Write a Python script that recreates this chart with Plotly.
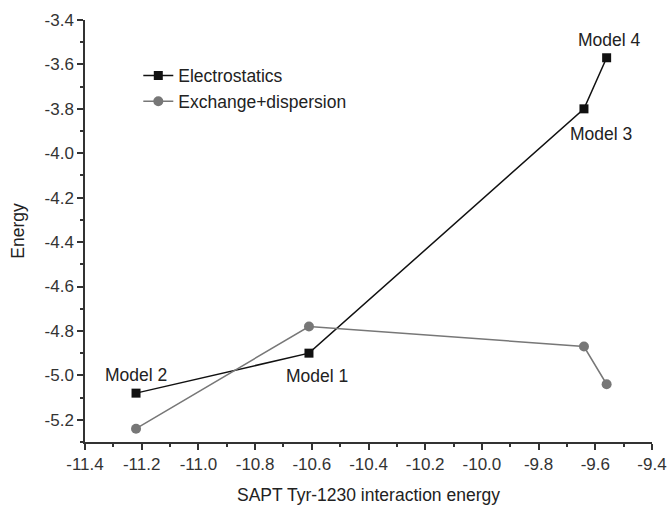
import plotly.graph_objects as go

models = ["Model 1", "Model 2", "Model 3", "Model 4"]
sapt_x = [-11.22, -10.61, -9.64, -9.56]
electro_y = [-5.08, -4.90, -3.80, -3.57]
exdisp_y = [-5.24, -4.78, -4.87, -5.04]
point_models = ["Model 2", "Model 1", "Model 3", "Model 4"]

x_ticks = [-11.4, -11.2, -11.0, -10.8, -10.6, -10.4, -10.2, -10.0, -9.8, -9.6, -9.4]
y_ticks = [-3.4, -3.6, -3.8, -4.0, -4.2, -4.4, -4.6, -4.8, -5.0, -5.2]

FONT = "Liberation Sans"
FS = 17.5
TFS = 17
fig = go.Figure()
fig.add_trace(go.Scatter(
    x=sapt_x, y=electro_y, mode="lines+markers", name="Electrostatics",
    line=dict(color="#111111", width=1.5),
    marker=dict(symbol="square", size=9, color="#111111"),
))
fig.add_trace(go.Scatter(
    x=sapt_x, y=exdisp_y, mode="lines+markers", name="Exchange+dispersion",
    line=dict(color="#777777", width=1.5),
    marker=dict(symbol="circle", size=10, color="#777777"),
))

offsets = {"Model 2": (0, 18), "Model 1": (8, -23), "Model 3": (17, -25), "Model 4": (3, 18)}
for xv, yv, m in zip(sapt_x, electro_y, point_models):
    dx, dy = offsets[m]
    fig.add_annotation(x=xv, y=yv, text=m, showarrow=False, xshift=dx, yshift=dy,
                       font=dict(family=FONT, size=FS, color="#222222"))

axis_common = dict(
    showline=True, linecolor="#333333", linewidth=1.5,
    ticks="outside", ticklen=6, tickwidth=1.5, tickcolor="#333333",
    showgrid=False, zeroline=False, mirror=False, automargin=False,
    ticklabeloverflow="allow",
    tickfont=dict(family=FONT, size=TFS, color="#333333"),
)
fig.update_xaxes(
    range=[-11.4, -9.4], tickvals=x_ticks, ticktext=[f"{v:.1f}" for v in x_ticks],
    minor=dict(dtick=0.1, ticks="outside", ticklen=3, tickwidth=1.5, tickcolor="#333333", showgrid=False),
    title=dict(text="SAPT Tyr-1230 interaction energy", font=dict(family=FONT, size=FS, color="#222222"), standoff=24),
    **axis_common,
)
fig.update_yaxes(
    range=[-5.3, -3.4], tickvals=y_ticks, ticktext=[f"{v:.1f}" for v in y_ticks],
    minor=dict(dtick=0.1, ticks="outside", ticklen=3, tickwidth=1.5, tickcolor="#333333", showgrid=False),
    title=dict(text="Energy", font=dict(family=FONT, size=FS, color="#222222"), standoff=15),
    **axis_common,
)
fig.update_layout(
    width=668, height=505,
    margin=dict(l=85, r=16, t=20, b=63),
    paper_bgcolor="white", plot_bgcolor="white",
    showlegend=True,
    legend=dict(x=0.094, y=0.911, xanchor="left", yanchor="top",
                bgcolor="rgba(0,0,0,0)", font=dict(family=FONT, size=FS, color="#222222"),
                tracegroupgap=0),
)
fig.write_html("out.html",
               config={"displayModeBar": False},
               post_script="document.body.style.margin='0';document.body.style.overflow='hidden';")
